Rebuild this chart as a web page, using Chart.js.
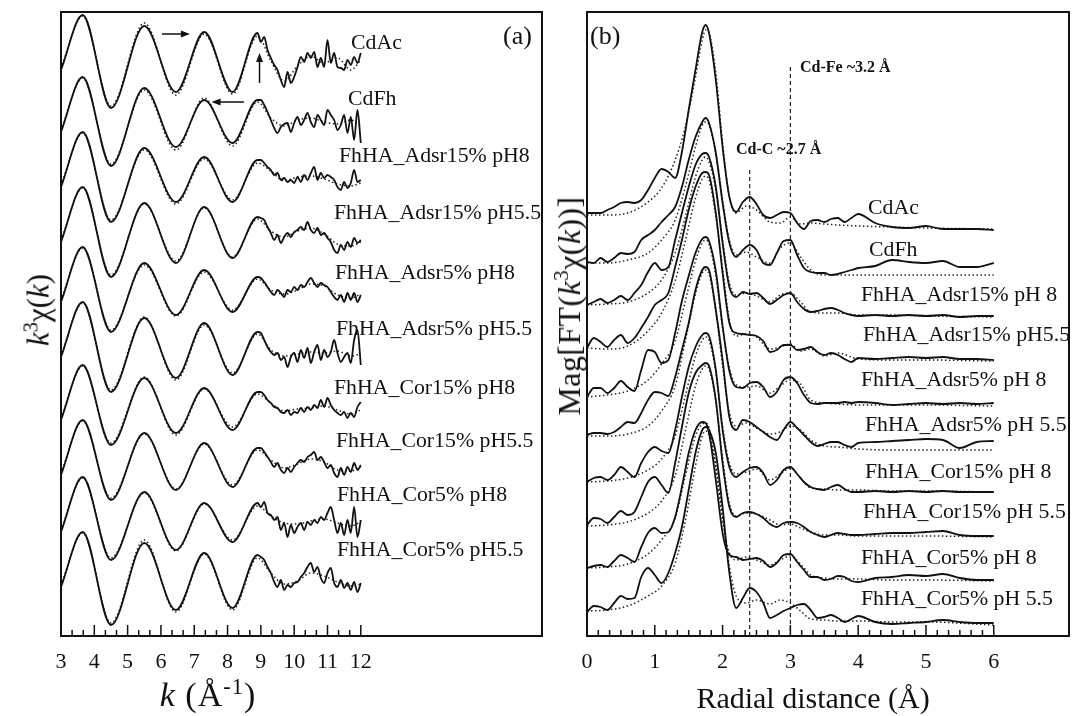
<!DOCTYPE html>
<html>
<head>
<meta charset="utf-8">
<script src="https://cdn.jsdelivr.net/npm/chart.js@4.4.0/dist/chart.umd.min.js"></script>
<style>
  body { margin: 0; background: #fff; }
  #wrap { position: relative; width: 1072px; height: 716px; overflow: hidden;
          font-family: "Liberation Serif", "Times New Roman", serif; color: #111; }
  canvas { position: absolute; top: 0; }
  .lbl { position: absolute; white-space: nowrap; font-size: 21.8px; line-height: 1; transform: translateY(-50%); }
  .tag { position: absolute; white-space: nowrap; font-size: 26px; line-height: 1; transform: translateY(-50%); }
  .mark { position: absolute; white-space: nowrap; font-size: 16px; font-weight: bold; line-height: 1; transform: translateY(-50%); }
  .ytitle { position: absolute; white-space: nowrap; line-height: 1; transform: translate(-50%, -50%) rotate(-90deg); }
  .xtitle { position: absolute; white-space: nowrap; line-height: 1; transform: translate(-50%, -50%); }
  sup { font-size: 66%; vertical-align: 0.55em; line-height: 0; }
</style>
</head>
<body>
<div id="wrap">
  <canvas id="chartA" width="555" height="716" style="left:0"></canvas>
  <canvas id="chartB" width="517" height="716" style="left:555px"></canvas>

  <div class="tag" style="left:503px;top:36px">(a)</div>
  <div class="tag" style="left:590px;top:36px">(b)</div>

  <div class="lbl" style="left:351px;top:43px">CdAc</div>
  <div class="lbl" style="left:348px;top:99px">CdFh</div>
  <div class="lbl" style="left:339px;top:156px">FhHA_Adsr15% pH8</div>
  <div class="lbl" style="left:334px;top:213px">FhHA_Adsr15% pH5.5</div>
  <div class="lbl" style="left:335px;top:273px">FhHA_Adsr5% pH8</div>
  <div class="lbl" style="left:336px;top:329px">FhHA_Adsr5% pH5.5</div>
  <div class="lbl" style="left:334px;top:388px">FhHA_Cor15% pH8</div>
  <div class="lbl" style="left:336px;top:441px">FhHA_Cor15% pH5.5</div>
  <div class="lbl" style="left:337px;top:495px">FhHA_Cor5% pH8</div>
  <div class="lbl" style="left:337px;top:550px">FhHA_Cor5% pH5.5</div>

  <div class="lbl" style="left:868px;top:208px">CdAc</div>
  <div class="lbl" style="left:869px;top:250px">CdFh</div>
  <div class="lbl" style="left:861px;top:295px">FhHA_Adsr15% pH 8</div>
  <div class="lbl" style="left:863px;top:335px">FhHA_Adsr15% pH5.5</div>
  <div class="lbl" style="left:861px;top:380px">FhHA_Adsr5% pH 8</div>
  <div class="lbl" style="left:865px;top:425px">FhHA_Adsr5% pH 5.5</div>
  <div class="lbl" style="left:865px;top:472px">FhHA_Cor15% pH 8</div>
  <div class="lbl" style="left:863px;top:512px">FhHA_Cor15% pH 5.5</div>
  <div class="lbl" style="left:861px;top:558px">FhHA_Cor5% pH 8</div>
  <div class="lbl" style="left:861px;top:599px">FhHA_Cor5% pH 5.5</div>

  <div class="mark" style="left:736px;top:149px">Cd-C ~2.7 Å</div>
  <div class="mark" style="left:800px;top:67px">Cd-Fe ~3.2 Å</div>

  <div class="ytitle" style="left:38px;top:310px;font-size:31px"><i>k</i><sup>3</sup>χ(<i>k</i>)</div>
  <div class="ytitle" style="left:569px;top:306px;font-size:32px;letter-spacing:0.4px">Mag[FT(<i>k</i><sup>3</sup>χ(<i>k</i>))]</div>
  <div class="xtitle" style="left:208px;top:695px;font-size:34px;letter-spacing:1px"><i>k</i> (Å<sup>-1</sup>)</div>
  <div class="xtitle" style="left:813px;top:698px;font-size:30px">Radial distance (Å)</div>
</div>

<script>
// ---- panel (a): k^3 chi(k), stacked (arbitrary units incl. offset) ----
var kData = [3.0, 3.65, 4.5, 5.5, 6.45, 7.3, 8.15, 8.9,
  9.0, 9.1, 9.2, 9.3, 9.4, 9.5, 9.6, 9.7, 9.8, 9.9, 10.0, 10.1, 10.2, 10.3, 10.4, 10.5,
  10.6, 10.7, 10.8, 10.9, 11.0, 11.1, 11.2, 11.3, 11.4, 11.5, 11.6, 11.7, 11.8, 11.9, 12.0];
var kFit = [3.0, 3.65, 4.5, 5.5, 6.45, 7.3, 8.15, 8.9, 9.3, 9.7, 10.1, 10.5, 10.9, 11.3, 11.7, 12.0];
var kTickLabels = [3, 4, 5, 6, 7, 8, 9, 10, 11, 12];

var chiCdAc = [56.6, 62.1, 52.8, 61.0, 54.4, 60.4, 54.4, 60.3, 59.4, 59.9, 58.6, 57.8, 57.1, 56.6, 55.6, 54.9, 56.4, 55.3, 55.9, 56.9, 57.9, 57.4, 58.3, 57.8, 58.4, 56.9, 57.8, 56.9, 59.6, 57.3, 58.3, 56.9, 56.8, 56.6, 57.6, 57.1, 57.9, 57.3, 58.3];
var fitCdAc = [56.8, 62.0, 53.0, 61.3, 54.1, 60.2, 54.2, 60.0, 57.5, 55.5, 57.0, 58.0, 57.3, 57.8, 56.6, 57.6];
var chiCdFh = [50.4, 55.9, 47.0, 54.8, 48.9, 53.6, 49.3, 53.6, 53.6, 53.1, 52.4, 51.6, 50.8, 50.3, 50.9, 51.2, 51.3, 50.4, 51.3, 51.9, 51.1, 51.6, 52.3, 51.4, 50.9, 52.1, 51.6, 51.1, 52.6, 52.1, 51.6, 50.6, 51.1, 52.1, 50.3, 51.9, 49.6, 52.6, 49.3];
var fitCdFh = [50.6, 55.8, 47.2, 54.6, 48.6, 53.8, 49.0, 53.4, 51.8, 51.0, 51.6, 51.8, 51.4, 51.2, 51.6, 51.0];
var chiA15p8 = [44.9, 50.4, 41.4, 48.8, 43.4, 47.9, 43.4, 47.6, 47.6, 47.3, 46.9, 46.6, 46.1, 46.3, 45.6, 45.8, 45.4, 45.6, 45.3, 45.9, 45.4, 46.1, 45.6, 46.3, 46.9, 45.6, 46.3, 45.8, 46.1, 45.9, 45.6, 44.9, 44.6, 45.4, 44.8, 45.3, 46.6, 45.4, 45.6];
var fitA15p8 = [45.1, 50.3, 41.6, 48.6, 43.2, 47.7, 43.6, 47.3, 46.5, 45.5, 45.9, 46.0, 45.7, 45.2, 45.0, 45.3];
var chiA15p55 = [39.4, 44.9, 35.9, 43.3, 37.3, 42.9, 37.8, 41.9, 41.8, 41.6, 40.9, 40.3, 39.6, 40.1, 39.3, 39.9, 40.3, 39.9, 40.4, 40.6, 40.9, 40.6, 41.4, 40.6, 40.3, 40.8, 40.1, 40.3, 39.8, 39.4, 38.6, 38.3, 39.1, 38.6, 39.4, 38.9, 39.8, 39.3, 39.6];
var fitA15p55 = [39.6, 44.8, 36.1, 43.2, 37.5, 42.8, 37.9, 41.7, 40.5, 39.9, 40.5, 40.8, 40.2, 39.2, 39.0, 39.4];
var chiA5p8 = [33.4, 38.9, 30.4, 37.3, 32.1, 36.6, 32.4, 35.9, 35.8, 35.4, 34.9, 34.4, 34.1, 34.6, 34.3, 33.9, 34.6, 34.4, 34.9, 34.6, 35.1, 34.9, 35.4, 35.8, 35.3, 34.9, 35.3, 35.1, 34.9, 34.4, 33.9, 33.6, 34.1, 33.4, 34.3, 33.6, 34.3, 33.4, 34.1];
var fitA5p8 = [33.6, 38.8, 30.6, 37.1, 32.0, 36.4, 32.6, 35.7, 34.6, 34.2, 34.6, 35.2, 35.0, 34.1, 33.8, 34.2];
var chiA5p55 = [27.9, 33.4, 24.4, 31.8, 25.8, 31.3, 26.1, 30.4, 30.3, 29.6, 28.9, 28.4, 28.1, 28.3, 27.6, 27.9, 26.9, 27.9, 28.3, 27.4, 28.6, 27.8, 28.8, 27.3, 28.4, 29.1, 27.6, 28.6, 27.9, 28.4, 29.6, 28.3, 27.4, 27.9, 28.3, 27.3, 29.6, 30.6, 27.1];
var fitA5p55 = [28.0, 33.3, 24.6, 31.9, 25.6, 31.1, 26.3, 30.2, 28.6, 28.0, 28.2, 28.4, 28.3, 28.5, 28.0, 28.2];
var chiC15p8 = [21.6, 27.1, 19.1, 25.8, 20.3, 24.8, 20.6, 24.4, 24.4, 24.1, 23.6, 23.3, 22.9, 22.8, 22.4, 22.3, 22.6, 22.1, 22.4, 22.3, 22.8, 22.4, 22.9, 22.6, 23.1, 22.8, 23.6, 22.9, 23.8, 23.1, 22.6, 22.3, 22.1, 22.4, 21.8, 22.3, 21.9, 22.9, 23.4];
var fitC15p8 = [21.8, 27.0, 19.3, 25.9, 20.1, 24.7, 20.9, 24.2, 23.3, 22.5, 22.7, 22.8, 23.0, 22.6, 22.2, 22.6];
var chiC15p55 = [16.1, 21.6, 13.6, 20.3, 14.6, 19.3, 14.9, 18.8, 18.8, 18.4, 17.9, 17.4, 16.9, 17.3, 16.6, 16.3, 16.8, 16.4, 16.9, 17.3, 17.6, 17.4, 17.9, 18.1, 18.4, 17.6, 17.9, 17.4, 16.8, 17.1, 16.3, 15.9, 16.8, 16.1, 16.9, 16.4, 17.3, 16.6, 17.1];
var fitC15p55 = [16.3, 21.5, 13.8, 20.2, 14.7, 19.2, 15.1, 18.6, 17.6, 16.8, 17.2, 17.7, 17.4, 16.6, 16.5, 16.9];
var chiC5p8 = [10.4, 15.9, 7.6, 14.4, 8.6, 13.3, 9.4, 13.3, 12.9, 13.4, 12.3, 12.1, 11.6, 11.9, 10.6, 11.3, 9.9, 11.1, 10.3, 10.9, 11.3, 10.6, 11.4, 11.1, 11.6, 11.3, 11.9, 11.6, 12.3, 12.9, 11.6, 10.3, 11.3, 10.1, 11.6, 10.3, 12.9, 9.9, 11.6];
var fitC5p8 = [10.6, 15.8, 7.8, 14.3, 8.5, 13.2, 9.6, 13.0, 12.0, 11.3, 11.2, 11.5, 11.7, 11.3, 11.0, 11.4];
var chiC5p55 = [4.9, 10.4, 1.1, 9.3, 2.6, 8.3, 2.8, 8.1, 7.9, 7.6, 6.9, 6.3, 5.4, 4.9, 5.6, 4.6, 5.1, 4.9, 5.3, 5.4, 5.9, 6.3, 6.9, 7.3, 6.4, 6.9, 5.8, 5.3, 6.3, 6.8, 5.3, 4.9, 5.6, 4.8, 5.3, 4.6, 5.4, 4.4, 5.3];
var fitC5p55 = [5.1, 10.3, 1.3, 9.6, 2.4, 8.2, 2.6, 7.8, 6.3, 5.2, 5.5, 6.3, 6.0, 5.4, 5.0, 5.2];

// arrows on panel (a), in data units: [k from, y from, k to, y to]
var arrowsA = [
  [6.03, 60.2, 6.87, 60.2],
  [8.96, 55.3, 8.96, 58.3],
  [8.49, 53.4, 7.52, 53.4]
];

// ---- panel (b): Fourier transform magnitude, stacked ----
var rData = [0, 0.1, 0.2, 0.3, 0.4, 0.5, 0.6, 0.7, 0.8, 0.9, 1.0, 1.1, 1.2, 1.3, 1.4, 1.5, 1.6, 1.7, 1.75,
  1.8, 1.9, 2.0, 2.1, 2.2, 2.3, 2.4, 2.5, 2.6, 2.7, 2.8, 2.9, 3.0, 3.1, 3.2, 3.3, 3.4, 3.5, 3.6, 3.7, 3.8, 3.9, 4.0,
  4.25, 4.5, 4.75, 5.0, 5.25, 5.5, 5.75, 6.0];
var rFit = [0, 0.3, 0.6, 0.9, 1.1, 1.3, 1.45, 1.6, 1.7, 1.75, 1.8, 1.9, 2.0, 2.1, 2.2, 2.35, 2.5, 2.7, 2.85,
  3.0, 3.15, 3.3, 3.5, 3.7, 4.0, 4.5, 5.0, 6.0];
var rTickLabels = [0, 1, 2, 3, 4, 5, 6];

var ftCdAc = [42.3, 42.3, 42.3, 42.6, 42.9, 43.3, 43.4, 43.3, 43.6, 44.6, 45.8, 46.7, 46.4, 45.8, 48.4, 52.6, 56.6, 60.4, 61.1, 60.3, 55.6, 48.9, 43.9, 42.4, 43.4, 43.9, 43.2, 42.1, 41.8, 42.1, 42.4, 42.3, 41.3, 40.7, 41.5, 41.6, 41.4, 41.7, 41.8, 41.4, 41.8, 42.2, 41.3, 40.9, 40.8, 41.0, 40.7, 40.7, 40.7, 40.6];
var ftFitCdAc = [42.1, 42.1, 42.3, 43.4, 44.8, 47.6, 50.9, 55.9, 59.6, 60.6, 60.3, 56.3, 49.3, 43.9, 42.3, 43.0, 42.6, 41.4, 41.3, 41.9, 41.2, 41.3, 41.2, 41.1, 41.0, 40.9, 40.8, 40.7];
var ftCdFh = [37.4, 37.3, 37.8, 37.4, 37.8, 38.3, 38.2, 38.4, 39.6, 40.1, 40.6, 41.4, 42.1, 42.9, 44.9, 47.6, 49.9, 51.4, 51.8, 51.3, 48.3, 43.3, 39.3, 37.9, 38.6, 39.1, 38.6, 37.3, 37.1, 38.3, 39.5, 39.6, 38.1, 36.8, 36.4, 36.3, 36.3, 36.1, 36.2, 36.4, 36.6, 36.8, 37.0, 37.6, 37.4, 37.3, 37.5, 36.9, 36.9, 37.3];
var ftFitCdFh = [37.3, 37.3, 37.6, 38.3, 39.6, 41.6, 44.9, 48.9, 51.1, 51.4, 51.1, 48.3, 43.6, 39.6, 38.1, 38.4, 37.9, 37.3, 38.8, 39.3, 37.9, 36.6, 36.1, 36.1, 36.1, 36.1, 36.1, 36.1];
var ftA15p8 = [33.1, 33.4, 33.7, 33.3, 33.6, 34.0, 33.6, 34.3, 35.1, 36.4, 37.3, 36.6, 36.9, 39.6, 42.3, 44.9, 47.1, 48.2, 48.3, 47.9, 44.9, 39.3, 34.9, 33.9, 34.4, 34.2, 34.3, 33.8, 33.2, 33.6, 34.1, 34.3, 33.4, 32.7, 32.4, 32.5, 32.7, 32.8, 32.6, 32.3, 32.1, 32.0, 32.1, 32.0, 32.1, 32.0, 32.1, 31.9, 32.0, 32.0];
var ftFitA15p8 = [33.1, 33.2, 33.4, 34.3, 35.6, 38.3, 41.9, 45.9, 47.6, 47.9, 47.4, 44.6, 39.6, 35.3, 34.1, 34.3, 34.0, 33.4, 34.1, 34.3, 33.4, 32.4, 32.3, 32.3, 32.1, 32.1, 32.0, 31.9];
var ftA15p55 = [28.8, 29.8, 29.4, 28.9, 29.6, 30.1, 29.3, 29.8, 30.8, 31.9, 33.1, 33.6, 34.3, 36.9, 39.6, 42.6, 44.9, 46.3, 46.4, 46.1, 42.3, 36.3, 31.3, 30.3, 30.2, 30.1, 30.0, 29.5, 28.4, 28.6, 29.1, 29.1, 28.6, 28.7, 28.9, 28.4, 28.1, 28.3, 28.1, 27.7, 27.4, 27.8, 27.7, 27.8, 27.9, 27.8, 27.9, 27.7, 27.7, 27.6];
var ftFitA15p55 = [28.8, 28.7, 29.0, 30.5, 32.3, 35.5, 39.5, 43.8, 45.7, 46.0, 45.6, 42.0, 36.8, 31.6, 30.0, 30.2, 29.9, 28.7, 28.9, 29.2, 28.5, 28.7, 28.0, 28.3, 27.7, 27.6, 27.6, 27.5];
var ftA5p8 = [23.9, 24.8, 24.8, 24.3, 24.8, 25.5, 24.9, 24.5, 26.6, 28.6, 28.4, 27.3, 27.6, 30.3, 33.5, 36.0, 38.3, 39.7, 39.9, 39.5, 36.5, 31.0, 26.5, 24.9, 24.8, 25.3, 25.4, 24.9, 23.9, 24.4, 25.6, 25.9, 25.3, 24.1, 23.3, 23.2, 23.3, 23.3, 23.3, 23.4, 23.3, 23.4, 23.3, 23.1, 23.2, 23.3, 23.2, 23.3, 23.2, 23.3];
var ftFitA5p8 = [23.9, 24.1, 24.5, 25.6, 27.2, 29.5, 33.5, 37.5, 39.3, 39.6, 39.2, 36.0, 30.8, 26.8, 25.1, 24.9, 25.0, 24.3, 25.0, 25.6, 25.2, 23.6, 23.3, 23.2, 23.1, 23.1, 23.1, 23.0];
var ftA5p55 = [20.1, 20.3, 20.3, 20.2, 20.4, 20.9, 21.4, 21.3, 22.3, 23.6, 24.4, 24.3, 24.0, 25.9, 28.6, 31.3, 34.6, 36.6, 36.9, 36.6, 32.6, 27.6, 21.9, 20.6, 21.6, 21.4, 20.9, 20.4, 19.9, 19.6, 20.6, 21.4, 20.8, 20.1, 19.4, 19.0, 19.2, 19.4, 19.4, 19.1, 18.9, 19.3, 19.4, 19.5, 19.6, 19.7, 19.6, 18.8, 19.4, 19.5];
var ftFitA5p55 = [20.0, 20.0, 20.2, 21.0, 22.5, 25.0, 29.5, 34.2, 36.3, 36.6, 36.2, 32.5, 27.0, 22.3, 21.0, 21.3, 20.8, 20.2, 20.4, 21.0, 20.6, 19.6, 19.0, 18.9, 18.7, 18.6, 18.6, 18.6];
var ftC15p8 = [15.4, 15.8, 15.9, 15.6, 16.1, 16.9, 16.4, 15.9, 17.3, 18.4, 18.9, 18.5, 18.3, 20.6, 23.9, 26.9, 28.9, 30.1, 30.3, 30.0, 26.6, 20.6, 16.9, 15.9, 16.4, 16.8, 16.9, 16.3, 15.1, 15.6, 16.6, 16.9, 16.2, 15.4, 14.9, 14.7, 14.6, 14.9, 15.1, 14.7, 14.4, 14.4, 14.5, 14.4, 14.5, 14.4, 14.5, 14.4, 14.4, 14.4];
var ftFitC15p8 = [15.4, 15.5, 15.8, 16.6, 17.7, 20.0, 24.0, 28.0, 29.6, 29.9, 29.6, 26.4, 21.0, 17.3, 16.2, 16.4, 16.7, 15.6, 16.2, 16.8, 15.8, 14.8, 14.7, 14.6, 14.6, 14.5, 14.5, 14.4];
var ftC15p55 = [11.1, 11.8, 11.7, 11.3, 11.9, 12.5, 12.1, 12.4, 13.9, 15.4, 15.9, 15.1, 14.3, 17.3, 20.9, 24.3, 26.3, 27.1, 27.3, 27.0, 23.6, 17.3, 12.9, 11.9, 12.3, 12.4, 12.2, 11.8, 11.2, 10.9, 11.3, 11.4, 11.3, 10.9, 10.4, 10.1, 9.9, 10.1, 10.3, 10.2, 10.1, 10.1, 10.2, 10.3, 10.3, 10.4, 10.5, 10.1, 10.0, 10.0];
var ftFitC15p55 = [11.0, 11.1, 11.4, 12.3, 13.5, 16.0, 20.5, 25.0, 26.7, 27.0, 26.7, 23.5, 17.8, 13.3, 12.0, 12.3, 12.2, 11.6, 11.1, 11.2, 10.8, 10.4, 10.1, 10.1, 10.0, 10.0, 10.0, 9.9];
var ftC5p8 = [6.8, 7.0, 7.1, 6.9, 7.5, 8.1, 7.8, 7.4, 8.9, 10.3, 10.8, 10.3, 10.4, 11.9, 14.9, 18.3, 20.6, 21.4, 21.3, 20.3, 15.6, 10.3, 8.1, 7.9, 7.6, 7.7, 7.8, 7.5, 6.9, 7.3, 8.1, 8.2, 7.4, 6.6, 5.9, 5.9, 5.6, 5.7, 6.0, 5.9, 5.5, 5.4, 5.8, 5.9, 6.1, 6.0, 6.2, 5.8, 5.6, 5.6];
var ftFitC5p8 = [6.8, 6.9, 7.2, 8.2, 9.6, 11.8, 16.0, 20.0, 21.2, 21.3, 20.8, 17.0, 11.5, 8.3, 7.6, 7.9, 7.6, 7.1, 7.6, 8.0, 7.2, 6.1, 5.8, 5.7, 5.7, 5.6, 5.6, 5.5];
var ftC5p55 = [2.4, 3.0, 2.9, 2.6, 3.3, 4.0, 3.7, 3.8, 5.9, 6.8, 6.1, 5.3, 6.3, 8.3, 10.9, 14.6, 18.3, 20.6, 20.9, 20.6, 18.3, 12.9, 6.3, 2.8, 3.8, 4.8, 4.4, 3.3, 1.8, 2.1, 2.5, 2.8, 3.1, 3.2, 2.6, 1.8, 1.9, 2.1, 1.8, 1.4, 1.7, 2.0, 1.4, 1.2, 1.3, 1.4, 1.6, 1.4, 1.3, 1.3];
var ftFitC5p55 = [2.5, 2.6, 3.0, 4.0, 5.0, 7.3, 11.5, 17.0, 20.0, 20.5, 20.1, 17.0, 12.0, 7.0, 4.0, 3.3, 3.6, 3.2, 3.6, 3.3, 2.5, 1.7, 1.6, 1.5, 1.5, 1.4, 1.4, 1.1];

// dashed guide lines (Cd-C, Cd-Fe): R position and top of the line
var guideR = [2.4, 3.0];
var guideTop = [46.6, 56.9];

function pairs(xs, ys) {
  return xs.map(function (x, i) { return { x: x, y: ys[i] }; });
}

function curve(xs, ys) {
  return {
    data: pairs(xs, ys),
    borderColor: '#111',
    borderWidth: 1.8,
    pointRadius: 0,
    cubicInterpolationMode: 'monotone',
    fill: false
  };
}

function fitCurve(xs, ys) {
  return {
    data: pairs(xs, ys),
    borderColor: '#222',
    borderWidth: 1.5,
    borderDash: [1.5, 2.5],
    pointRadius: 0,
    cubicInterpolationMode: 'monotone',
    fill: false
  };
}

// frame round the plot area plus inward tick marks
var framePlugin = {
  id: 'frame',
  afterDatasetsDraw: function (chart, args, opts) {
    var a = chart.chartArea;
    var ctx = chart.ctx;
    var xs = chart.scales.x;
    ctx.save();
    ctx.strokeStyle = '#111';
    ctx.lineWidth = 2;
    ctx.strokeRect(a.left, a.top, a.right - a.left, a.bottom - a.top);
    ctx.lineWidth = 1.5;
    var n = Math.round((opts.last - opts.first) / opts.step);
    for (var i = 1; i <= n; i++) {
      var x = xs.getPixelForValue(opts.first + i * opts.step);
      var major = i % opts.per === 0;
      ctx.beginPath();
      ctx.moveTo(x, a.bottom);
      ctx.lineTo(x, a.bottom - (major ? 11 : 6));
      ctx.stroke();
    }
    ctx.restore();
  }
};

var arrowPlugin = {
  id: 'arrows',
  afterDatasetsDraw: function (chart) {
    var ctx = chart.ctx;
    var xs = chart.scales.x, ys = chart.scales.y;
    ctx.save();
    ctx.strokeStyle = '#111';
    ctx.fillStyle = '#111';
    ctx.lineWidth = 1.5;
    arrowsA.forEach(function (ar) {
      var x1 = xs.getPixelForValue(ar[0]), y1 = ys.getPixelForValue(ar[1]);
      var x2 = xs.getPixelForValue(ar[2]), y2 = ys.getPixelForValue(ar[3]);
      var ang = Math.atan2(y2 - y1, x2 - x1);
      ctx.beginPath();
      ctx.moveTo(x1, y1);
      ctx.lineTo(x2 - 6 * Math.cos(ang), y2 - 6 * Math.sin(ang));
      ctx.stroke();
      ctx.beginPath();
      ctx.moveTo(x2, y2);
      ctx.lineTo(x2 - 9 * Math.cos(ang) + 3.5 * Math.sin(ang), y2 - 9 * Math.sin(ang) - 3.5 * Math.cos(ang));
      ctx.lineTo(x2 - 9 * Math.cos(ang) - 3.5 * Math.sin(ang), y2 - 9 * Math.sin(ang) + 3.5 * Math.cos(ang));
      ctx.closePath();
      ctx.fill();
    });
    ctx.restore();
  }
};

function panelOptions(xMin, xMax, tickLabels, padLeft, padRight, frame) {
  return {
    responsive: false,
    animation: false,
    devicePixelRatio: 1,
    layout: { padding: { left: padLeft, right: padRight, top: 12, bottom: 0 } },
    plugins: { legend: { display: false }, tooltip: { enabled: false }, frame: frame },
    scales: {
      x: {
        type: 'linear',
        min: xMin,
        max: xMax,
        grid: { display: false, drawTicks: false },
        border: { display: false },
        afterBuildTicks: function (scale) {
          scale.ticks = tickLabels.map(function (v) { return { value: v }; });
        },
        afterFit: function (scale) { scale.height = 80; },
        ticks: {
          autoSkip: false,
          maxRotation: 0,
          padding: 13,
          color: '#111',
          font: { family: 'Liberation Serif', size: 22 }
        }
      },
      y: { display: false, min: 0, max: 62.4 }
    }
  };
}

new Chart(document.getElementById('chartA'), {
  type: 'line',
  data: {
    datasets: [
      curve(kData, chiCdAc), fitCurve(kFit, fitCdAc),
      curve(kData, chiCdFh), fitCurve(kFit, fitCdFh),
      curve(kData, chiA15p8), fitCurve(kFit, fitA15p8),
      curve(kData, chiA15p55), fitCurve(kFit, fitA15p55),
      curve(kData, chiA5p8), fitCurve(kFit, fitA5p8),
      curve(kData, chiA5p55), fitCurve(kFit, fitA5p55),
      curve(kData, chiC15p8), fitCurve(kFit, fitC15p8),
      curve(kData, chiC15p55), fitCurve(kFit, fitC15p55),
      curve(kData, chiC5p8), fitCurve(kFit, fitC5p8),
      curve(kData, chiC5p55), fitCurve(kFit, fitC5p55)
    ]
  },
  options: panelOptions(3, 17.44, kTickLabels, 61, 13, { first: 3, last: 12, step: 1 / 3, per: 3 }),
  plugins: [framePlugin, arrowPlugin]
});

var guideSets = guideR.map(function (r, i) {
  return {
    data: [{ x: r, y: guideTop[i] }, { x: r, y: 0 }],
    borderColor: '#222',
    borderWidth: 1.2,
    borderDash: [4, 3],
    pointRadius: 0,
    fill: false
  };
});

new Chart(document.getElementById('chartB'), {
  type: 'line',
  data: {
    datasets: guideSets.concat([
      curve(rData, ftCdAc), fitCurve(rFit, ftFitCdAc),
      curve(rData, ftCdFh), fitCurve(rFit, ftFitCdFh),
      curve(rData, ftA15p8), fitCurve(rFit, ftFitA15p8),
      curve(rData, ftA15p55), fitCurve(rFit, ftFitA15p55),
      curve(rData, ftA5p8), fitCurve(rFit, ftFitA5p8),
      curve(rData, ftA5p55), fitCurve(rFit, ftFitA5p55),
      curve(rData, ftC15p8), fitCurve(rFit, ftFitC15p8),
      curve(rData, ftC15p55), fitCurve(rFit, ftFitC15p55),
      curve(rData, ftC5p8), fitCurve(rFit, ftFitC5p8),
      curve(rData, ftC5p55), fitCurve(rFit, ftFitC5p55)
    ])
  },
  options: panelOptions(0, 7.11, rTickLabels, 32, 3, { first: 0, last: 6, step: 1 / 6, per: 6 }),
  plugins: [framePlugin]
});
</script>
</body>
</html>
